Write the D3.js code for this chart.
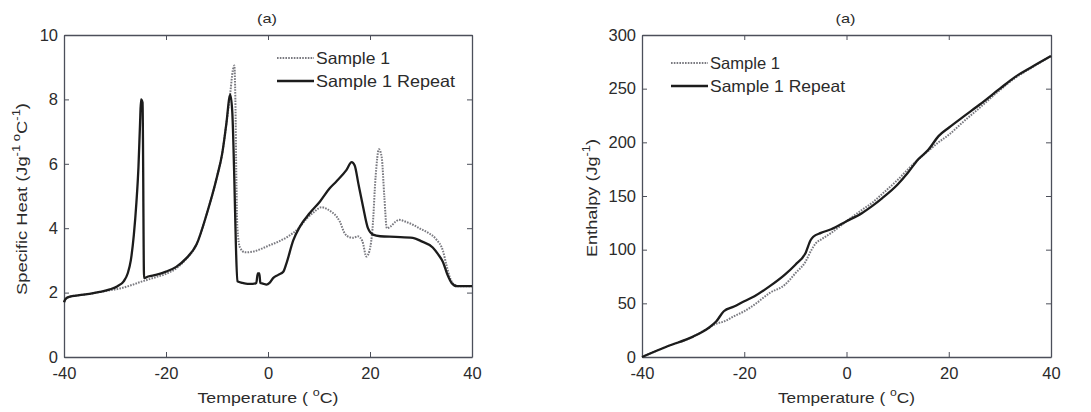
<!DOCTYPE html>
<html>
<head>
<meta charset="utf-8">
<script src="https://cdn.jsdelivr.net/npm/d3@7"></script>
<style>
  body { margin: 0; background: #fff; }
  svg { font-family: Arial, "Liberation Sans", sans-serif; }
</style>
</head>
<body>
<svg id="chart" width="1091" height="412"></svg>
<script>
// --- data ---
const cpRepeatTemp = [-40, -39.7, -39, -37, -35, -33, -31, -29.5, -28.3, -27.5, -26.9, -26.3, -25.8, -25.4, -25.1, -24.9, -24.6, -24.3,
  -23.5, -22, -20, -18, -16, -14, -12, -10, -9, -8.2, -7.4, -7.0, -6.6, -6.3, -6.0, -5, -4, -3, -2.3, -2.0, -1.7, -1.5, -1, -0.3,
  0.3, 1, 2, 3, 3.6, 4.95, 6.25, 8.2, 10.2, 12.1, 13.4, 15.4, 16.4, 17, 17.7, 18.6, 19.6, 20.6, 22, 25, 28.4, 30, 32.3, 33.3, 34.3,
  35.2, 36, 37, 38, 40]
const cpRepeat = [1.7, 1.8, 1.87, 1.92, 1.96, 2.02, 2.1, 2.2, 2.35, 2.6, 3.0, 3.8, 4.8, 5.9, 7.2, 8.0, 7.9, 2.45,
  2.5, 2.55, 2.65, 2.8, 3.07, 3.5, 4.45, 5.6, 6.3, 7.2, 8.15, 7.6, 5.5, 3.5, 2.35, 2.3, 2.27, 2.27, 2.3, 2.6, 2.6, 2.3, 2.28, 2.25,
  2.3, 2.45, 2.55, 2.65, 2.9, 3.62, 4.05, 4.47, 4.83, 5.24, 5.45, 5.81, 6.05, 5.95, 5.4, 4.7, 4.0, 3.8, 3.75, 3.73, 3.7, 3.6, 3.4, 3.2, 2.95,
  2.55, 2.3, 2.2, 2.2, 2.2]

const cpSampleTemp = [-40, -39.7, -39, -37, -35, -33, -31, -29, -27, -25, -24, -23, -22, -20, -18, -16, -14, -12, -10, -9, -8.2,
  -7.4, -6.9, -6.6, -6.4, -6.2, -6.0, -5.5, -4.5, -3, -1, 0, 2, 4, 6, 7.6, 9, 10.5, 11.5, 12.5, 13.5, 14.1, 15, 16, 16.7, 17.6,
  18.5, 19.3, 19.9, 20.5, 21.1, 21.75, 22.3, 22.8, 23.3, 24, 25, 25.7, 27, 28.5, 30, 31.5, 33, 34.3, 35, 35.7, 36.5, 37.5, 40]
const cpSample = [1.7, 1.8, 1.87, 1.92, 1.96, 2.02, 2.07, 2.13, 2.22, 2.33, 2.38, 2.43, 2.48, 2.58, 2.75, 3.05, 3.5, 4.45, 5.6, 6.3, 7.2,
  8.2, 8.9, 9.05, 8.0, 5.5, 4.0, 3.4, 3.25, 3.27, 3.38, 3.45, 3.58, 3.75, 4.0, 4.3, 4.5, 4.65, 4.6, 4.5, 4.35, 4.2, 3.85, 3.72, 3.7, 3.75,
  3.6, 3.12, 3.3, 4.0, 5.6, 6.45, 6.2, 5.0, 4.0, 4.05, 4.2, 4.26, 4.2, 4.1, 3.97, 3.85, 3.65, 3.3, 2.85, 2.45, 2.25, 2.2, 2.2]

const hRepeatTemp = [-40, -35, -30, -27, -25.5, -24, -22, -20, -18, -15, -12, -10, -8, -7, -6.5, -5, -3, 0, 3, 5, 7, 10, 12, 14,
  16, 18, 20, 23, 26, 30, 33, 36, 40]
const hRepeat = [0, 10, 19, 27, 33, 42.6, 47, 52, 56.6, 66, 77, 86, 97, 109, 112, 115.6, 119, 126.5, 134, 140.5, 148, 160.7, 171.6, 184,
  193, 205.8, 213.6, 224.4, 235, 250, 261, 269.5, 280.4]

const hSampleTemp = [-40, -35, -30, -27, -25.5, -24, -22, -20, -18, -15, -12, -10, -8, -7, -6, -5, -3, 0, 3, 5, 7, 10, 12, 14,
  16, 18, 20, 23, 26, 30, 33, 36, 40]
const hSample = [0, 10, 19, 27, 31, 33, 38, 42.6, 48.8, 59.7, 67.5, 78, 89, 98.5, 106, 109.4, 115.6, 126.5, 137, 143.6, 152, 165, 174.7, 184,
  192, 200, 207, 219.8, 232, 248.7, 260, 269, 280.4]

const tempTicks = [-40, -20, 0, 20, 40]
const cpTicks = [0, 2, 4, 6, 8, 10]
const hTicks = [0, 50, 100, 150, 200, 250, 300]
const legendLabels = ["Sample 1", "Sample 1 Repeat"]

// --- drawing ---
const svg = d3.select("#chart")
const axisColor = "#4c4f5a"
const textColor = "#2b2b2b"

function zip(xs, ys) {
  return xs.map((x, i) => ({ x: x, y: ys[i] }))
}

// the scan stretches every text a little sideways, so fit some to the measured width
function stretch(sel, w) {
  return sel.attr("textLength", w).attr("lengthAdjust", "spacingAndGlyphs")
}

function drawPanel(opts) {
  const { left, right, top, bottom, yDomain, yTicks, series, legendX, legendY, legendW, xLabelW } = opts
  const x = d3.scaleLinear().domain([-40, 40]).range([left, right])
  const y = d3.scaleLinear().domain(yDomain).range([bottom, top])
  const g = svg.append("g")
  const fmt = d => String(d)

  // axes, MATLAB style: ticks inside on all four sides
  const axes = [
    { a: d3.axisBottom(x).tickValues(tempTicks).tickFormat(fmt).tickSizeInner(-5).tickSizeOuter(0).tickPadding(10), t: `translate(0,${bottom})`, labels: true },
    { a: d3.axisTop(x).tickValues(tempTicks).tickSizeInner(-5).tickSizeOuter(0), t: `translate(0,${top})`, labels: false },
    { a: d3.axisLeft(y).tickValues(yTicks).tickFormat(fmt).tickSizeInner(-5).tickSizeOuter(0).tickPadding(6), t: `translate(${left},0)`, labels: true },
    { a: d3.axisRight(y).tickValues(yTicks).tickSizeInner(-5).tickSizeOuter(0), t: `translate(${right},0)`, labels: false }
  ]
  axes.forEach(ax => {
    const ag = g.append("g").attr("transform", ax.t).call(ax.a)
    ag.select(".domain").attr("stroke", axisColor).attr("stroke-width", 1.3)
    ag.selectAll(".tick line").attr("stroke", axisColor)
    ag.selectAll(".tick text")
      .attr("fill", textColor)
      .style("font-size", "16.5px")
      .style("display", ax.labels ? null : "none")
  })

  const line = d3.line()
    .x(d => x(d.x))
    .y(d => y(d.y))
    .curve(d3.curveMonotoneX)

  series.forEach(s => {
    g.append("path")
      .datum(s.data)
      .attr("fill", "none")
      .attr("stroke", s.color)
      .attr("stroke-width", s.width)
      .attr("stroke-dasharray", s.dash)
      .attr("stroke-linejoin", "round")
      .attr("d", line)
  })

  // legend
  const lg = g.append("g").attr("transform", `translate(${legendX},${legendY})`)
  series.forEach((s, i) => {
    lg.append("line")
      .attr("x1", 0).attr("x2", 37)
      .attr("y1", i * 23).attr("y2", i * 23)
      .attr("stroke", s.color)
      .attr("stroke-width", s.width)
      .attr("stroke-dasharray", s.dash)
    const t = lg.append("text")
      .attr("x", 39).attr("y", i * 23 + 6)
      .attr("fill", textColor)
      .style("font-size", "16.5px")
      .text(legendLabels[i])
    stretch(t, legendW[i])
  })

  // title
  stretch(g.append("text")
    .attr("x", (left + right) / 2 - 1).attr("y", 23)
    .attr("text-anchor", "middle")
    .attr("fill", textColor)
    .style("font-size", "13px")
    .text("(a)"), 20)

  // x label
  const xl = g.append("text")
    .attr("x", (left + right) / 2).attr("y", 403)
    .attr("text-anchor", "middle")
    .attr("fill", textColor)
    .style("font-size", "15.5px")
  xl.append("tspan").text("Temperature ( ")
  xl.append("tspan").attr("dy", -7).style("font-size", "11px").text("o")
  xl.append("tspan").attr("dy", 7).text("C)")
  stretch(xl, xLabelW)

  return g
}

const dotted = { color: "#7a7a80", width: 2, dash: "1.6,1.2" }
const solid = { color: "#1c1c1c", width: 2.3, dash: null }

const gl = drawPanel({
  left: 64, right: 472, top: 35, bottom: 357,
  yDomain: [0, 10], yTicks: cpTicks,
  legendX: 277, legendY: 58, legendW: [74, 139], xLabelW: 141,
  series: [
    Object.assign({ data: zip(cpSampleTemp, cpSample) }, dotted),
    Object.assign({ data: zip(cpRepeatTemp, cpRepeat) }, solid)
  ]
})

const gr = drawPanel({
  left: 642, right: 1051, top: 35, bottom: 357,
  yDomain: [0, 300], yTicks: hTicks,
  legendX: 671, legendY: 63, legendW: [70, 135], xLabelW: 137,
  series: [
    Object.assign({ data: zip(hSampleTemp, hSample) }, dotted),
    Object.assign({ data: zip(hRepeatTemp, hRepeat) }, solid)
  ]
})

// y labels
const yl1 = gl.append("text")
  .attr("transform", "translate(27,199) rotate(-90)")
  .attr("text-anchor", "middle")
  .attr("fill", textColor)
  .style("font-size", "15.5px")
yl1.append("tspan").text("Specific Heat (Jg")
yl1.append("tspan").attr("dy", -7).style("font-size", "11px").text("-1")
yl1.append("tspan").attr("dy", 0).style("font-size", "11px").text(" o")
yl1.append("tspan").attr("dy", 7).text("C")
yl1.append("tspan").attr("dy", -7).style("font-size", "11px").text("-1")
yl1.append("tspan").attr("dy", 7).text(")")
stretch(yl1, 192)

const yl2 = gr.append("text")
  .attr("transform", "translate(597,198) rotate(-90)")
  .attr("text-anchor", "middle")
  .attr("fill", textColor)
  .style("font-size", "15.5px")
yl2.append("tspan").text("Enthalpy (Jg")
yl2.append("tspan").attr("dy", -7).style("font-size", "11px").text("-1")
yl2.append("tspan").attr("dy", 7).text(")")
stretch(yl2, 118)
</script>
</body>
</html>
